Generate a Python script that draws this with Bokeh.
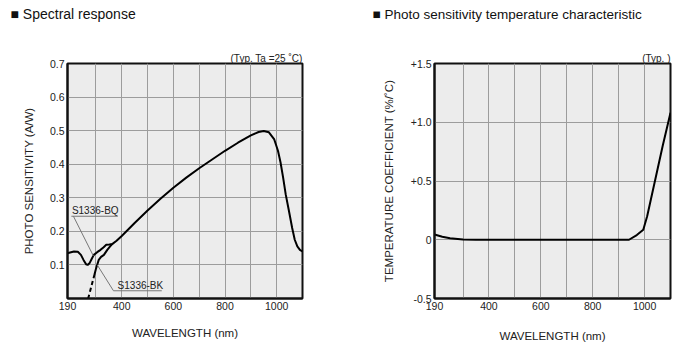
import numpy as np
from bokeh.plotting import figure
from bokeh.layouts import row
from bokeh.models import Range1d, FixedTicker, Label, Title, CustomJSTickFormatter
from bokeh.embed import file_html
from bokeh.resources import INLINE

# ---------------- data ----------------
bq_wl = [190, 200, 215, 230, 242, 252, 262, 268, 276, 285, 292, 305, 318, 330, 340, 352, 363,
         380, 400, 450, 500, 550, 600, 650, 700, 750, 800, 850, 900, 930, 950, 970, 990,
         1005, 1015, 1025, 1035, 1047, 1060, 1070, 1080, 1090, 1100]
bq_sens = [0.135, 0.137, 0.140, 0.139, 0.130, 0.115, 0.102, 0.100, 0.106, 0.120, 0.130, 0.138,
           0.145, 0.153, 0.160, 0.161, 0.162, 0.172, 0.186, 0.225, 0.262, 0.297, 0.330, 0.360,
           0.388, 0.414, 0.440, 0.464, 0.486, 0.496, 0.499, 0.495, 0.475, 0.440, 0.405, 0.360,
           0.310, 0.263, 0.210, 0.175, 0.155, 0.145, 0.140]
bk_wl = [294, 300, 311, 320, 331, 344, 355, 363]
bk_sens = [0.070, 0.088, 0.115, 0.124, 0.130, 0.145, 0.155, 0.162]
bk_dash_wl = [270, 282, 294]
bk_dash_sens = [0.0, 0.035, 0.070]

tc_wl = [190, 220, 250, 300, 350, 600, 800, 940, 970, 995, 1010, 1040, 1070, 1100]
tc_coef = [0.045, 0.025, 0.012, 0.003, 0.0, 0.0, 0.0, 0.0, 0.04, 0.085, 0.2, 0.5, 0.8, 1.08]

x_ticks = [190, 400, 600, 800, 1000]
x_grid = [300, 400, 500, 600, 700, 800, 900, 1000]
sens_ticks = [0.1, 0.2, 0.3, 0.4, 0.5, 0.6, 0.7]
coef_ticks = [-0.5, 0, 0.5, 1.0, 1.5]

FONT = "Liberation Sans"
BG = "#ececec"
GRID = "#9c9c9c"
TXT = "#222222"


def style(p, yticks, ygrid, ylab_standoff, xlab_standoff):
    p.xaxis.ticker = FixedTicker(ticks=x_ticks)
    p.yaxis.ticker = FixedTicker(ticks=yticks)
    p.xgrid.ticker = FixedTicker(ticks=x_grid)
    p.ygrid.ticker = FixedTicker(ticks=ygrid)
    for g in (p.xgrid, p.ygrid):
        g.grid_line_color = GRID
        g.grid_line_width = 1
    for ax in (p.xaxis, p.yaxis):
        ax.major_tick_line_color = None
        ax.minor_tick_line_color = None
        ax.major_tick_out = 0
        ax.major_tick_in = 0
        ax.minor_tick_out = 0
        ax.minor_tick_in = 0
        ax.axis_line_color = "#111111"
        ax.axis_line_width = 2
        ax.major_label_text_font = FONT
        ax.major_label_text_font_size = "10.5px"
        ax.major_label_text_color = TXT
        ax.axis_label_text_font = FONT
        ax.axis_label_text_font_size = "11.5px"
        ax.axis_label_text_font_style = "normal"
        ax.axis_label_text_color = TXT
    p.xaxis.major_label_standoff = 3
    p.yaxis.major_label_standoff = 3
    p.yaxis.axis_label_standoff = ylab_standoff
    p.xaxis.axis_label_standoff = xlab_standoff
    p.outline_line_color = "#111111"
    p.outline_line_width = 2
    p.background_fill_color = BG
    p.border_fill_color = "white"


def add_titles(p, main_text, main_offset, main_size, typ_text):
    typ = Title(text=typ_text, align="right", offset=0, standoff=0,
                text_font=FONT, text_font_size="10px", text_font_style="normal",
                text_color=TXT)
    spacer = Title(text=" ", standoff=26, text_font_size="1px", text_color="white")
    main = Title(text=main_text, align="left", offset=main_offset, standoff=0,
                 text_font=FONT, text_font_size=main_size, text_font_style="normal",
                 text_color="#111111")
    p.add_layout(typ, "above")
    p.add_layout(spacer, "above")
    p.add_layout(main, "above")


# ---------------- left chart ----------------
p1 = figure(width=350, height=354, output_backend="svg", toolbar_location=None,
            x_range=Range1d(190, 1100), y_range=Range1d(0, 0.7),
            min_border_left=67, min_border_right=48, min_border_top=63, min_border_bottom=56)
p1.title = None
p1.xaxis.axis_label = "WAVELENGTH (nm)"
p1.yaxis.axis_label = "PHOTO SENSITIVITY (A/W)"
style(p1, sens_ticks, [0.1, 0.2, 0.3, 0.4, 0.5, 0.6], 12, 14)
add_titles(p1, "\u25a0 Spectral response", -57, "14px", "(Typ. Ta =25 \u02daC)")

p1.line(bq_wl, bq_sens, line_color="black", line_width=2)
p1.line(bk_wl, bk_sens, line_color="black", line_width=2)
p1.line(bk_dash_wl, bk_dash_sens, line_color="black", line_width=2, line_dash="4 3")

# annotation leaders (label anchors are layout; endpoints taken on curves)
bq_pt = (290, float(np.interp(290, bq_wl, bq_sens)))
bk_pt = (305, float(np.interp(305, bk_wl, bk_sens)))
p1.segment([205, 213], [0.245, 0.245], [385, bq_pt[0]], [0.245, bq_pt[1]],
           line_color="#777777", line_width=1)
p1.segment([368, 368], [0.023, 0.023], [555, bk_pt[0]], [0.023, bk_pt[1]],
           line_color="#777777", line_width=1)
p1.add_layout(Label(x=207, y=0.262, text="S1336-BQ", text_font=FONT, text_font_size="10px",
                    text_color=TXT, text_baseline="middle"))
p1.add_layout(Label(x=384, y=0.040, text="S1336-BK", text_font=FONT, text_font_size="10px",
                    text_color=TXT, text_baseline="middle"))

# ---------------- right chart ----------------
p2 = figure(width=347, height=354, output_backend="svg", toolbar_location=None,
            x_range=Range1d(190, 1100), y_range=Range1d(-0.5, 1.5),
            min_border_left=84, min_border_right=27, min_border_top=63, min_border_bottom=56)
p2.title = None
p2.xaxis.axis_label = "WAVELENGTH (nm)"
p2.yaxis.axis_label = "TEMPERATURE COEFFICIENT (%/\u02daC)"
style(p2, coef_ticks, [0, 0.5, 1.0], 13, 17)
p2.yaxis.formatter = CustomJSTickFormatter(
    code='return tick == 0 ? "0" : (tick > 0 ? "+" : "") + tick.toFixed(1);')
add_titles(p2, "\u25a0 Photo sensitivity temperature characteristic", -62, "13.5px", "(Typ. )")

p2.line(tc_wl, tc_coef, line_color="black", line_width=2)

layout = row(p1, p2)
open("out.html", "w").write(file_html(layout, INLINE))
